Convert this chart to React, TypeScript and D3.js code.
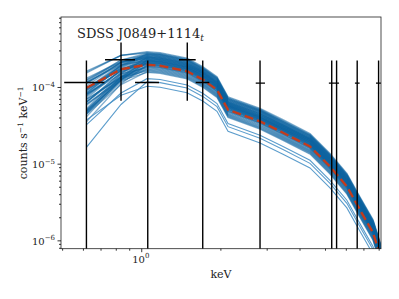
import React, { useEffect, useRef } from 'react';
import * as d3 from 'd3';

// model grid (keV) and median folded model (counts s^-1 keV^-1)
const modelEnergy = [0.617, 0.834, 1.047, 1.174, 1.487, 1.711, 1.933, 2.129, 2.818, 3.446, 4.365, 5.2, 6.03, 6.76, 7.58, 8.1];
const modelMedian = [0.99e-4, 1.73e-4, 1.98e-4, 1.92e-4, 1.63e-4, 1.26e-4, 9.33e-5, 5.12e-5, 3.61e-5, 2.57e-5, 1.7e-5, 9.33e-6, 5.12e-6, 2.54e-6, 1.28e-6, 6.2e-7];

// posterior draws: log10 offset from the median and low-energy tilt
const drawShift = [0.16, 0.12, 0.08, 0.05, 0.14, 0.02, -0.03, 0.1, 0.06, 0.0, -0.06, 0.11, 0.04, 0.15, -0.02, 0.07, 0.09, 0.01, -0.08, 0.13,
  0.03, -0.04, 0.05, 0.17, 0.08, -0.01, 0.12, -0.1, 0.06, 0.02, 0.1, -0.05, 0.04, 0.14, 0.0, 0.07, -0.07, 0.11, 0.03, 0.09,
  0.13, -0.02, 0.05, 0.08, 0.01, 0.15, -0.09, 0.06, 0.1, 0.03];
const drawTilt = [0.2, -0.3, -0.6, 0.1, -0.9, -0.2, -1.2, -0.5, -1.5, 0.0, -0.4, -0.8, -1.8, 0.3, -0.7, -1.1, -0.1, -1.4, -0.3, -0.6,
  -1.6, -0.2, -1.0, 0.1, -0.4, -1.3, -0.7, -0.5, -1.7, -0.9, 0.0, -1.2, -0.3, -0.5, -1.9, -0.8, -0.6, -0.2, -1.4, -1.0,
  -0.1, -0.9, -1.5, 0.2, -0.4, -0.3, -1.1, -0.7, -1.6, -0.5];
const outlierShift = [-0.22, -0.28, -0.18];
const outlierTilt = [-2.4, -0.6, -1.3];

// binned data with errors
const dataE = [0.616, 0.834, 1.054, 1.49, 1.706, 2.818, 5.28, 5.51, 6.6, 7.96];
const dataELo = [0.507, 0.725, 0.943, 1.386, 1.604, 2.714, 5.15, 5.39, 6.47, 7.78];
const dataEHi = [0.721, 0.943, 1.163, 1.604, 1.807, 2.943, 5.39, 5.63, 6.74, 8.13];
const dataY = [1.16e-4, 2.3e-4, 1.16e-4, 2.3e-4, 1.16e-4, 1.14e-4, 1.14e-4, 1.14e-4, 1.14e-4, 1.14e-4];
const dataYLo = [0, 6.7e-5, 0, 6.7e-5, 0, 0, 0, 0, 0, 0];
const dataYHi = [2.25e-4, 3.86e-4, 2.25e-4, 3.86e-4, 2.25e-4, 2.25e-4, 2.25e-4, 2.25e-4, 2.25e-4, 2.25e-4];

const yMajor = [1e-6, 1e-5, 1e-4];
const yMajorLabels = ['−6', '−5', '−4'];
const xMajor = [1];
const xMajorLabels = ['0'];

const font = '"DejaVu Serif", "Liberation Serif", serif';

const App = () => {
  const ref = useRef<SVGSVGElement>(null);

  useEffect(() => {
    const svg = d3.select(ref.current);
    svg.selectAll('*').remove();

    const left = 61, right = 381, top = 17, bottom = 248.7;
    const x = d3.scaleLog().domain([0.493, 8.13]).range([left, right]);
    const y = d3.scaleLog().domain([7.9e-7, 8.3e-4]).range([bottom, top]);

    svg.append('clipPath').attr('id', 'plotclip')
      .append('rect').attr('x', left).attr('y', top).attr('width', right - left).attr('height', bottom - top);

    const plot = svg.append('g').attr('clip-path', 'url(#plotclip)');

    const tilt = (e: number) => Math.max(0, Math.log10(1.05 / e));
    const drawLine = (a: number, b: number) =>
      d3.line<number>()
        .x((_, i) => x(modelEnergy[i]))
        .y((m, i) => y(m * Math.pow(10, a + b * tilt(modelEnergy[i]))))(modelMedian);

    drawShift.forEach((a, i) => {
      plot.append('path')
        .attr('d', drawLine(a, drawTilt[i]))
        .attr('fill', 'none')
        .attr('stroke', '#0a62a0')
        .attr('stroke-opacity', 0.5)
        .attr('stroke-width', 1.3);
    });
    outlierShift.forEach((a, i) => {
      plot.append('path')
        .attr('d', drawLine(a, outlierTilt[i]))
        .attr('fill', 'none')
        .attr('stroke', '#4a92c6')
        .attr('stroke-opacity', 0.9)
        .attr('stroke-width', 1.1);
    });

    plot.append('path')
      .attr('d', drawLine(0, 0))
      .attr('fill', 'none')
      .attr('stroke', '#c23b1c')
      .attr('stroke-width', 2.4)
      .attr('stroke-dasharray', '9,4');

    // error bars
    dataE.forEach((e, i) => {
      plot.append('line')
        .attr('x1', x(dataELo[i])).attr('x2', x(dataEHi[i]))
        .attr('y1', y(dataY[i])).attr('y2', y(dataY[i]))
        .attr('stroke', 'black').attr('stroke-width', 1.4);
      plot.append('line')
        .attr('x1', x(e)).attr('x2', x(e))
        .attr('y1', dataYLo[i] > 0 ? y(dataYLo[i]) : bottom + 2)
        .attr('y2', y(dataYHi[i]))
        .attr('stroke', 'black').attr('stroke-width', 1.4);
    });

    // frame
    svg.append('rect')
      .attr('x', left).attr('y', top).attr('width', right - left).attr('height', bottom - top)
      .attr('fill', 'none').attr('stroke', '#222').attr('stroke-width', 0.8);

    const axes = svg.append('g').attr('stroke', 'black').attr('stroke-width', 0.8);

    // y ticks
    const [y0, y1] = y.domain();
    for (let d = -7; d <= -3; d++) {
      for (let k = 1; k < 10; k++) {
        const v = k * Math.pow(10, d);
        if (v < y0 || v > y1) continue;
        const len = k === 1 ? 3.5 : 2;
        axes.append('line').attr('x1', left - len).attr('x2', left).attr('y1', y(v)).attr('y2', y(v));
      }
    }
    // x ticks
    const [x0, x1] = x.domain();
    for (let d = -1; d <= 0; d++) {
      for (let k = 1; k < 10; k++) {
        const v = k * Math.pow(10, d);
        if (v < x0 || v > x1) continue;
        const len = k === 1 ? 3.5 : 2;
        axes.append('line').attr('x1', x(v)).attr('x2', x(v)).attr('y1', bottom).attr('y2', bottom + len);
      }
    }

    yMajor.forEach((v, i) => {
      const t = svg.append('text')
        .attr('x', left - 6).attr('y', y(v) + 4)
        .attr('text-anchor', 'end')
        .attr('font-family', font).attr('font-size', 10).attr('fill', '#222');
      t.append('tspan').text('10');
      t.append('tspan').attr('dy', -4.5).attr('font-size', 7).text(yMajorLabels[i]);
    });
    xMajor.forEach((v, i) => {
      const t = svg.append('text')
        .attr('x', x(v) - 1).attr('y', bottom + 14)
        .attr('text-anchor', 'middle')
        .attr('font-family', font).attr('font-size', 10).attr('fill', '#222');
      t.append('tspan').text('10');
      t.append('tspan').attr('dy', -4.5).attr('font-size', 7).text(xMajorLabels[i]);
    });

    svg.append('text')
      .attr('x', (left + right) / 2).attr('y', 278)
      .attr('text-anchor', 'middle')
      .attr('font-family', font).attr('font-size', 11).attr('fill', '#222')
      .text('keV');

    const yl = svg.append('text')
      .attr('transform', `translate(27,${(top + bottom) / 2}) rotate(-90)`)
      .attr('text-anchor', 'middle')
      .attr('font-family', font).attr('font-size', 11).attr('fill', '#222');
    yl.append('tspan').text('counts s');
    yl.append('tspan').attr('dy', -4.5).attr('font-size', 7.5).text('−1');
    yl.append('tspan').attr('dy', 4.5).text(' keV');
    yl.append('tspan').attr('dy', -4.5).attr('font-size', 7.5).text('−1');

    const title = svg.append('text')
      .attr('x', 77).attr('y', 38)
      .attr('font-family', font).attr('font-size', 13).attr('fill', '#222');
    title.append('tspan').text('SDSS J0849+1114');
    title.append('tspan').attr('dy', 3).attr('font-size', 9).attr('font-style', 'italic').text('t');
  }, []);

  return (
    <svg ref={ref} width={399} height={299}
      style={{ position: 'absolute', left: 0, top: 0, background: 'white' }} />
  );
};

export default App;
